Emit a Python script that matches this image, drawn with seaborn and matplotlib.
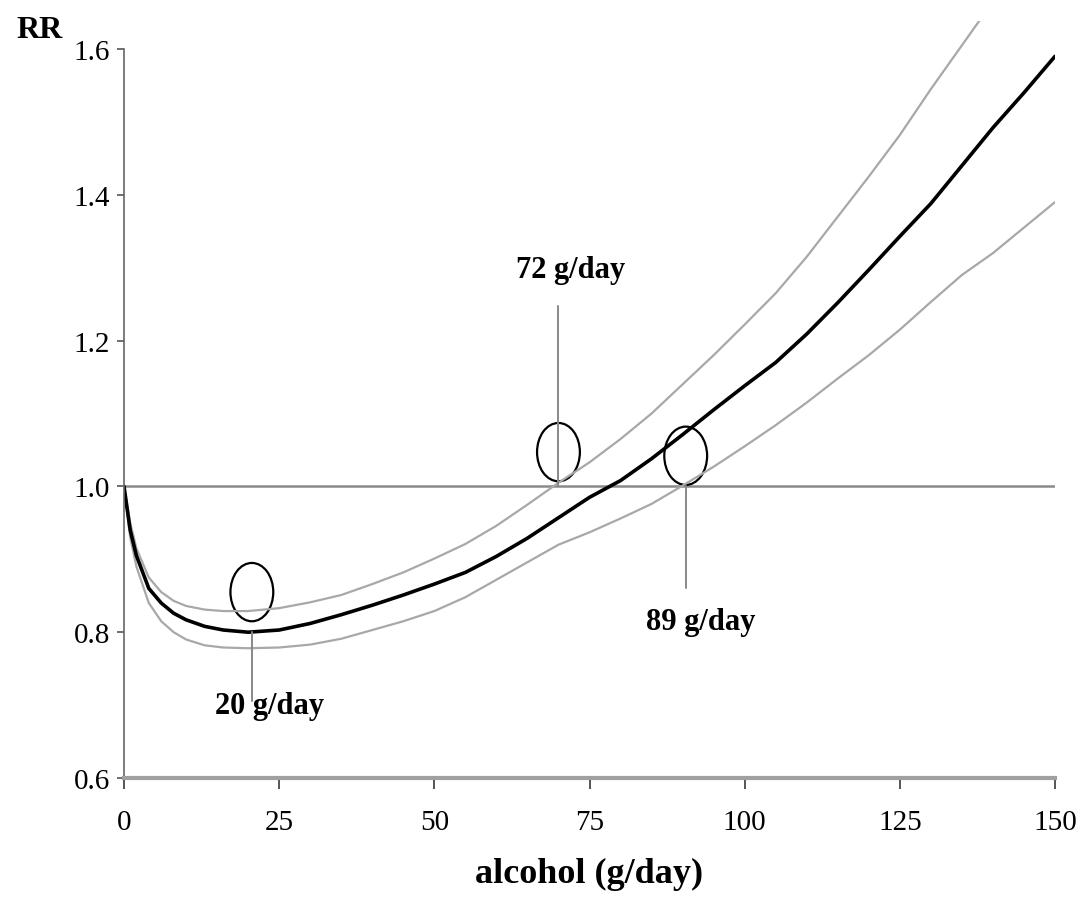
import matplotlib
matplotlib.use("Agg")
import matplotlib.pyplot as plt
import seaborn as sns
import pandas as pd
from matplotlib.patches import Ellipse

# alcohol intake (g/day) and relative risk
alcohol = [0, 1, 2, 4, 6, 8, 10, 13, 16, 20, 25, 30, 35, 40, 45, 50, 55, 60, 65, 70,
           75, 80, 85, 90, 95, 100, 105, 110, 115, 120, 125, 130, 135, 140, 145, 150]
rr_main = [1.0, 0.94, 0.905, 0.86, 0.84, 0.826, 0.817, 0.808, 0.803, 0.800, 0.803, 0.812,
           0.824, 0.837, 0.851, 0.866, 0.882, 0.904, 0.929, 0.957, 0.985, 1.008, 1.038,
           1.071, 1.105, 1.138, 1.170, 1.209, 1.252, 1.297, 1.343, 1.388, 1.440, 1.492,
           1.540, 1.590]
rr_lower = [1.0, 0.93, 0.89, 0.84, 0.815, 0.80, 0.79, 0.782, 0.779, 0.778, 0.779, 0.783,
            0.791, 0.803, 0.815, 0.829, 0.848, 0.872, 0.896, 0.920, 0.937, 0.956, 0.976,
            1.001, 1.027, 1.055, 1.084, 1.115, 1.148, 1.180, 1.215, 1.253, 1.290, 1.320,
            1.355, 1.390]

alcohol_upper = [0, 1, 2, 4, 6, 8, 10, 13, 16, 20, 25, 30, 35, 40, 45, 50, 55, 60, 65, 70,
                 75, 80, 85, 90, 95, 100, 105, 110, 115, 120, 125, 130, 135, 140]
rr_upper = [1.0, 0.95, 0.915, 0.875, 0.855, 0.843, 0.836, 0.831, 0.829, 0.829, 0.833, 0.841,
            0.851, 0.866, 0.882, 0.901, 0.921, 0.946, 0.975, 1.005, 1.033, 1.065, 1.100,
            1.140, 1.180, 1.222, 1.265, 1.315, 1.370, 1.425, 1.482, 1.545, 1.605, 1.665]

# marked doses: (dose, RR where the marker sits, label)
marks = [20.6, 70, 90.5]
mark_rr = [0.855, 1.047, 1.042]
mark_labels = ["20 g/day", "72 g/day", "89 g/day"]

xticks = [0, 25, 50, 75, 100, 125, 150]
yticks = [0.6, 0.8, 1.0, 1.2, 1.4, 1.6]

df_main = pd.DataFrame({"alcohol": alcohol, "RR": rr_main})
df_low = pd.DataFrame({"alcohol": alcohol, "RR": rr_lower})
df_up = pd.DataFrame({"alcohol": alcohol_upper, "RR": rr_upper})

sns.set_style("ticks")
plt.rcParams['font.family'] = ['Liberation Serif', 'DejaVu Serif']
plt.rcParams['text.color'] = 'black'
plt.rcParams['axes.labelcolor'] = 'black'

fig = plt.figure(figsize=(10.8, 9.03), dpi=100)
ax = fig.add_axes([124 / 1080, 1 - 779 / 903, (1055 - 124) / 1080, (779 - 22) / 903])

ax.axhline(1.0, color="#8a8a8a", lw=1.8, zorder=1)

sns.lineplot(data=df_up, x="alcohol", y="RR", color="#a8a8a8", lw=1.6, ax=ax)
sns.lineplot(data=df_low, x="alcohol", y="RR", color="#a8a8a8", lw=1.6, ax=ax)
sns.lineplot(data=df_main, x="alcohol", y="RR", color="black", lw=2.6, ax=ax)

# circles with leader lines
ax.add_patch(Ellipse((marks[0], mark_rr[0]), 6.9, 0.08, fill=False, ec="black", lw=1.6))
ax.plot([marks[0], marks[0]], [0.80, 0.706], color="#888888", lw=1.4)
ax.text(23.5, 0.70, mark_labels[0], ha="center", va="center", fontsize=22, fontweight="bold")

ax.add_patch(Ellipse((marks[1], mark_rr[1]), 6.9, 0.08, fill=False, ec="black", lw=1.6))
ax.plot([marks[1], marks[1]], [1.0, 1.247], color="#888888", lw=1.4)
ax.text(71.9, 1.298, mark_labels[1], ha="center", va="center", fontsize=22, fontweight="bold")

ax.add_patch(Ellipse((marks[2], mark_rr[2]), 6.9, 0.08, fill=False, ec="black", lw=1.6))
ax.plot([marks[2], marks[2]], [1.0, 0.86], color="#888888", lw=1.4)
ax.text(92.9, 0.815, mark_labels[2], ha="center", va="center", fontsize=22, fontweight="bold")

ax.set_xlim(0, 150)
ax.set_ylim(0.6, 0.6 + (779 - 22) / 729)
ax.set_xticks(xticks)
ax.set_xticklabels([str(t) for t in xticks])
ax.set_yticks(yticks)
ax.set_yticklabels([f"{t:.1f}" for t in yticks])
ax.tick_params(axis="x", length=8, width=1.4, color="#555555", pad=14, labelsize=21,
               labelcolor="black")
ax.tick_params(axis="y", length=5, width=1.2, color="#555555", pad=5, labelsize=21,
               labelcolor="black")

sns.despine(ax=ax)
ax.spines["left"].set_bounds(0.6, 1.6)
ax.spines["left"].set_color("#666666")
ax.spines["left"].set_linewidth(1.2)
ax.spines["bottom"].set_color("#a0a0a0")
ax.spines["bottom"].set_linewidth(3.0)

ax.set_xlabel("alcohol (g/day)", fontsize=26, fontweight="bold", labelpad=16)
ax.set_ylabel("")
fig.text(40 / 1080, 1 - 30 / 903, "RR", ha="center", va="center", fontsize=23, fontweight="bold")

fig.savefig("out.png", dpi=100)
